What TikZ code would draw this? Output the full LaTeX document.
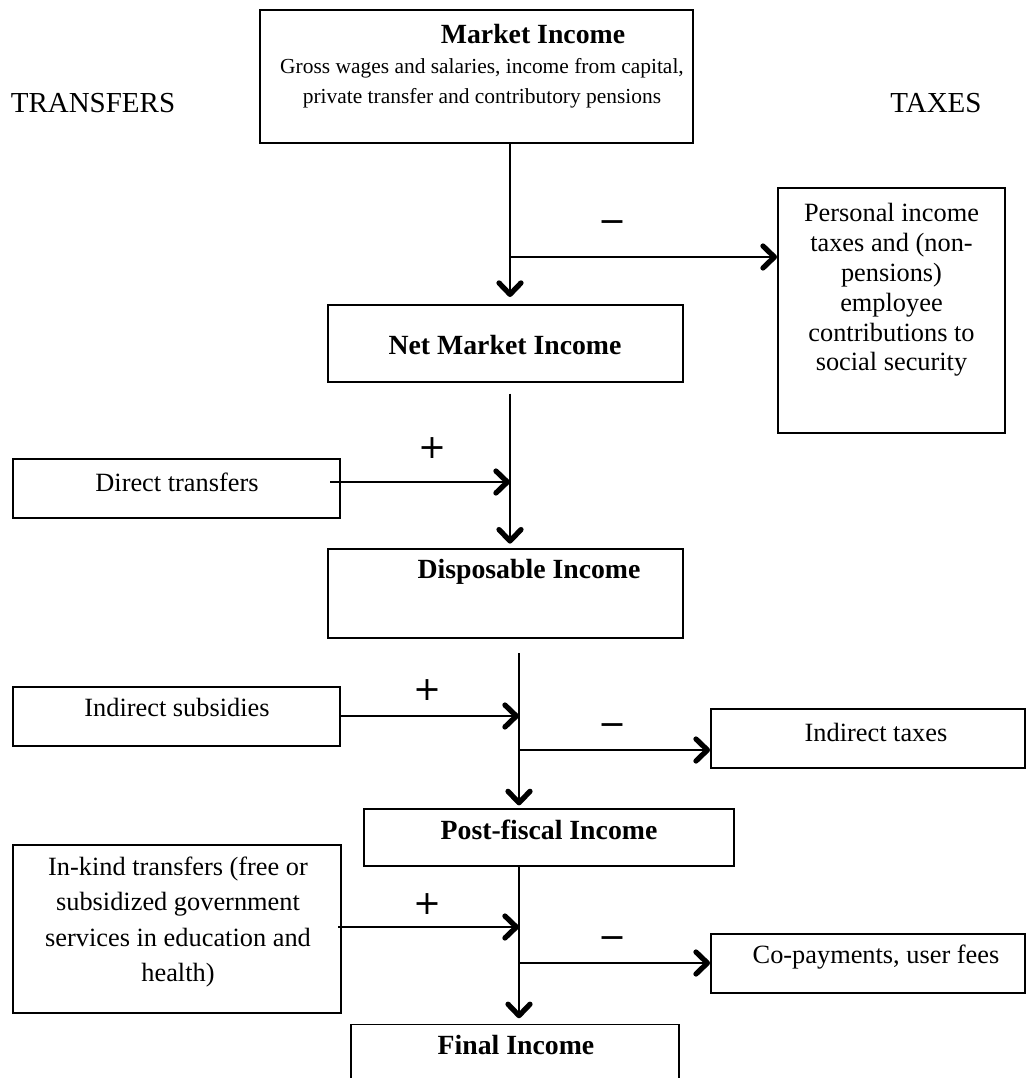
\documentclass[tikz,border=0pt]{standalone}
\usepackage{fontspec}
\setmainfont{Liberation Serif}
\newfontfamily\signfont{DejaVu Sans}
\usetikzlibrary{arrows.meta}

\begin{document}
\begin{tikzpicture}[x=0.02cm,y=-0.02cm,
   every node/.style={font=\fontsize{15}{17}\selectfont},
   box/.style={draw,line width=1.1pt,inner sep=0pt},
   txt/.style={align=center,inner sep=0pt},
   ttl/.style={font=\fontsize{15.8}{17}\selectfont\bfseries,inner sep=0pt},
   sgn/.style={font=\fontsize{19}{19}\selectfont\signfont,inner sep=0pt},
   flow/.style={line width=1.1pt,-{Straight Barb[length=6.5pt,width=12.5pt,line width=3pt,round]}}]
\useasboundingbox (0,0) rectangle (1026,1078);
\clip (0,0) rectangle (1026,1078);
\node[txt,font=\fontsize{16.5}{17}\selectfont] (trf) at (93,103) {TRANSFERS};
\node[txt,font=\fontsize{16.5}{17}\selectfont] (tax) at (936,103) {TAXES};
\node[box,minimum width=433*0.02cm,minimum height=133*0.02cm] (mkt) at (476.5,76.5) {};
\node[ttl] (mktt) at (533,34) {Market Income};
\node[txt,font=\fontsize{12.2}{17}\selectfont] (mktx) at (482,83) {Gross wages and salaries, income from capital,\\private transfer and contributory pensions};
\node[box,minimum width=227*0.02cm,minimum height=245*0.02cm] (pit) at (891.5,310.5) {};
\node[txt] (pitx) at (891.5,290) {Personal income\\taxes and (non-\\pensions)\\employee\\contributions to\\social security};
\node[box,minimum width=355*0.02cm,minimum height=77*0.02cm] (nmi) at (505.5,343.5) {};
\node[ttl] (nmit) at (505,345) {Net Market Income};
\node[box,minimum width=327*0.02cm,minimum height=59*0.02cm] (dt) at (176.5,488.5) {};
\node[txt] (dtx) at (177,482) {Direct transfers};
\node[box,minimum width=355*0.02cm,minimum height=89*0.02cm] (dsp) at (505.5,593.5) {};
\node[ttl] (dspt) at (529,572) {Disposable Income};
\node[box,minimum width=327*0.02cm,minimum height=59*0.02cm] (isb) at (176.5,716.5) {};
\node[txt] (isbx) at (177,707) {Indirect subsidies};
\node[box,minimum width=314*0.02cm,minimum height=59*0.02cm] (itx) at (868,738.5) {};
\node[txt] (itxx) at (876,732) {Indirect taxes};
\node[box,minimum width=370*0.02cm,minimum height=57*0.02cm] (pfi) at (549,837.5) {};
\node[ttl] (pfit) at (549,830) {Post-fiscal Income};
\node[box,minimum width=328*0.02cm,minimum height=168*0.02cm] (ikt) at (177,929) {};
\node[txt,font=\fontsize{15}{20}\selectfont] (iktx) at (178,922) {In-kind transfers (free or\\subsidized government\\services in education and\\health)};
\node[box,minimum width=314*0.02cm,minimum height=59*0.02cm] (cop) at (868,963.5) {};
\node[txt] (copx) at (876,957) {Co-payments, user fees};
\node[box,minimum width=328*0.02cm,minimum height=75*0.02cm] (fin) at (515,1062) {};
\node[ttl] (fint) at (516,1045) {Final Income};
\coordinate (j1) at (510,257);
\coordinate (j2) at (510,482);
\coordinate (j3) at (519,716);
\coordinate (j4) at (519,750);
\coordinate (j5) at (519,927);
\coordinate (j6) at (519,963);
\draw[flow,shorten >=4pt] (j1 |- mkt.south) -- (j1 |- nmi.north);
\draw[flow] (j1) -- (j1 -| pit.west);
\draw[flow,shorten <=6pt,shorten >=2.5pt] (j2 |- nmi.south) -- (j2 |- dsp.north);
\draw[flow,shorten <=-6pt] (dt.east |- j2) -- (j2);
\draw[flow,shorten <=8pt,shorten >=1.5pt] (j3 |- dsp.south) -- (j3 |- pfi.north);
\draw[flow] (isb.east |- j3) -- (j3);
\draw[flow] (j4) -- (j4 -| itx.west);
\draw[flow,shorten >=3pt] (j5 |- pfi.south) -- (j5 |- fin.north);
\draw[flow,shorten <=-2pt] (ikt.east |- j5) -- (j5);
\draw[flow] (j6) -- (j6 -| cop.west);
\node[sgn] (m1) at (612,227) {−};
\node[sgn] (p1) at (432,448) {+};
\node[sgn] (p2) at (427,690) {+};
\node[sgn] (m2) at (612,730) {−};
\node[sgn] (p3) at (427,904) {+};
\node[sgn] (m3) at (612,943) {−};
\end{tikzpicture}
\end{document}
